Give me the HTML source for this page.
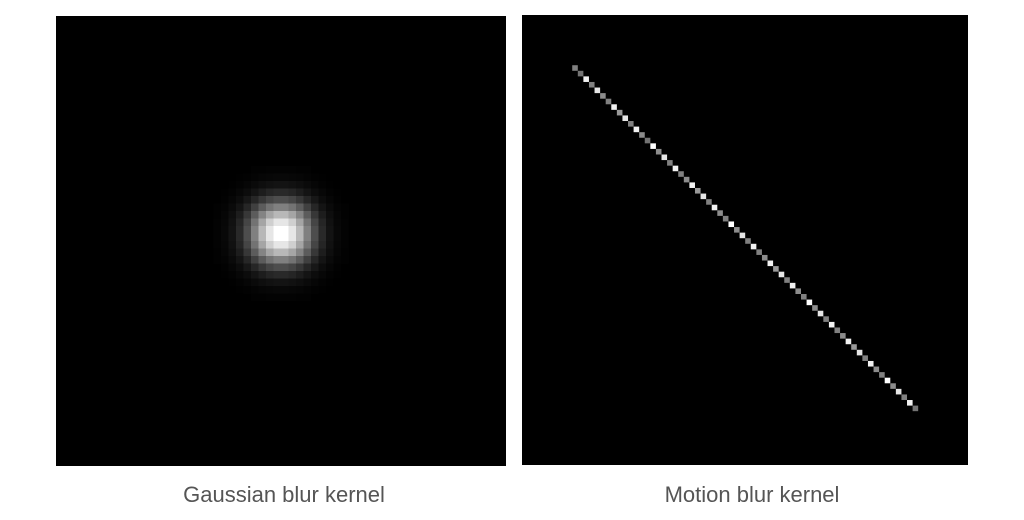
<!DOCTYPE html>
<html><head><meta charset="utf-8"><style>
body{margin:0;background:#fff;width:1024px;height:520px;overflow:hidden;font-family:"Liberation Sans",sans-serif}
.lbl{position:absolute;font-size:22px;color:#555;text-align:center;width:460px;top:482px}
</style></head><body>
<svg id="s" width="1024" height="520" style="position:absolute;left:0;top:0">
<rect x="56" y="16" width="450" height="450" fill="#000"/>
<rect x="522" y="15" width="446" height="450" fill="#000"/>
<g id="g"></g><g id="m"></g>
</svg>
<div class="lbl" style="left:54px">Gaussian blur kernel</div>
<div class="lbl" style="left:522px">Motion blur kernel</div>
<script>
// 1D gaussian profile by distance (in cells) from center
const gaussProfile=[1.0,0.9,0.72,0.5,0.3,0.16,0.075,0.03,0.012,0.0];
// motion blur diagonal intensities
const motionVals=[0.5,0.45,0.95,0.5,0.9,0.55,0.5,0.95,0.6,0.9,0.5,0.95,0.55,0.45,1,0.55,0.9,0.5,0.95,0.5,0.55,0.95,0.6,0.9,0.5,0.95,0.55,0.5,1,0.55,0.9,0.5,0.95,0.5,0.55,0.95,0.6,0.9,0.5,0.95,0.55,0.5,1,0.55,0.9,0.5,0.95,0.5,0.55,0.95,0.6,0.9,0.5,0.95,0.55,0.5,1,0.55,0.9,0.5,0.95,0.45];
const NS="http://www.w3.org/2000/svg";
const gN=60,gX=56,gY=16,gC=450/gN,cRow=28.5,cCol=29.8;
const g=document.getElementById('g');
for(let i=0;i<gN;i++)for(let j=0;j<gN;j++){
  const di=Math.floor(Math.abs(i-cRow)),dj=Math.floor(Math.abs(j-cCol));
  if(di>=gaussProfile.length||dj>=gaussProfile.length)continue;
  const v=gaussProfile[di]*gaussProfile[dj];if(v<0.004)continue;
  const r=document.createElementNS(NS,'rect');
  r.setAttribute('x',gX+j*gC);r.setAttribute('y',gY+i*gC);
  r.setAttribute('width',gC+0.3);r.setAttribute('height',gC+0.3);
  const c=Math.round(255*Math.min(1,v));
  r.setAttribute('fill',`rgb(${c},${c},${c})`);
  
  
  g.appendChild(r);
}
const m=document.getElementById('m');
const mX=522,mY=15,mC=5.58,start=9;
motionVals.forEach((v,k)=>{
  const r=document.createElementNS(NS,'rect');
  r.setAttribute('x',mX+(start+k)*mC);r.setAttribute('y',mY+(start+k)*mC);
  r.setAttribute('width',mC);r.setAttribute('height',mC);
  const c=Math.round(255*v);
  r.setAttribute('fill',`rgb(${c},${c},${c})`);
  
  
  m.appendChild(r);
});
</script>
</body></html>
